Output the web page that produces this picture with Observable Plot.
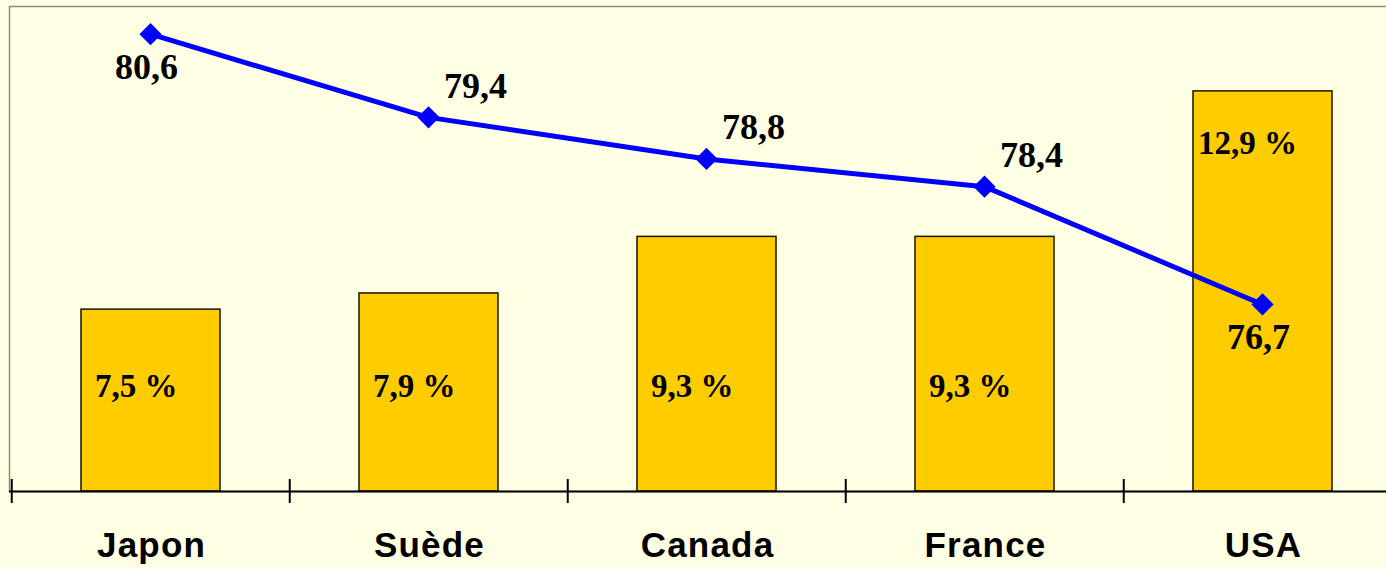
<!DOCTYPE html>
<html>
<head>
<meta charset="utf-8">
<script src="https://cdn.jsdelivr.net/npm/d3@7"></script>
<script src="https://cdn.jsdelivr.net/npm/@observablehq/plot@0.6"></script>
<style>
  html, body { margin: 0; padding: 0; background: #FFFFE3; overflow: hidden; }
  #wrap { position: relative; width: 1386px; height: 568px; overflow: hidden; }
  #wrap > svg { position: absolute; left: 0; top: 0; }
</style>
</head>
<body>
<div id="wrap"></div>
<script>
// Data
const categories = ["Japon", "Suède", "Canada", "France", "USA"];
const barValues = [7.5, 7.9, 9.3, 9.3, 12.9];      // % (bars, left scale)
const lineValues = [80.6, 79.4, 78.8, 78.4, 76.7];  // years (line, right scale)
const barDomain = [3, 15];
const lineDomain = [74, 81];

const bars = categories.map((c, i) => ({country: c, value: barValues[i]}));
const line = categories.map((c, i) => ({country: c, value: lineValues[i]}));

const W = 1386, H = 568;
const margins = {marginLeft: 9, marginRight: -17.5, marginTop: 6, marginBottom: 77};
const fmt = v => v.toFixed(1).replace(".", ",");
const serif = "'Liberation Serif', 'Times New Roman', Times, serif";
const sans = "'Liberation Sans', Arial, Helvetica, sans-serif";

const last = categories[categories.length - 1];
const first = categories[0];

const plot1 = Plot.plot({
  width: W, height: H, ...margins,
  style: {background: "#FFFFE3", fontFamily: sans, overflow: "hidden"},
  x: {type: "band", domain: categories, paddingInner: 0.5, paddingOuter: 0.25, axis: null},
  y: {domain: barDomain, axis: null},
  marks: [
    Plot.frame({stroke: "#8a8a8a", strokeWidth: 1.5}),
    Plot.barY(bars, {x: "country", y1: barDomain[0], y2: "value", fill: "#FFCC00", stroke: "#1a1400", strokeWidth: 1.5}),
    Plot.ruleY([barDomain[0]], {stroke: "#000", strokeWidth: 2}),
    Plot.ruleX(categories, {x: d => d, y1: barDomain[0], y2: barDomain[0], dx: -139.25, insetTop: -12, insetBottom: -12, stroke: "#000", strokeWidth: 2}),
    Plot.text(categories, {x: d => d, y: barDomain[0], dy: 54, dx: 0.5, text: d => d, fontSize: 35, fontWeight: "bold", fontFamily: sans, fill: "#000"}),
    Plot.text(bars.filter(d => d.country !== last), {x: "country", y: 5.6, dx: -56, textAnchor: "start", text: d => fmt(d.value) + " %", fontSize: 33, fontWeight: "bold", fontFamily: serif, fill: "#000"}),
    Plot.text(bars.filter(d => d.country === last), {x: "country", y: "value", dy: 52, dx: -65, textAnchor: "start", text: d => fmt(d.value) + " %", fontSize: 33, fontWeight: "bold", fontFamily: serif, fill: "#000"})
  ]
});
// widen the category labels slightly, like the reference
const catGroup = plot1.querySelectorAll('g[aria-label="text"]')[0];
if (catGroup) catGroup.style.letterSpacing = "1.2px";

const plot2 = Plot.plot({
  width: W, height: H, ...margins,
  style: {background: "transparent", fontFamily: serif, overflow: "hidden"},
  x: {type: "point", domain: categories, padding: 0.5, axis: null},
  y: {domain: lineDomain, axis: null},
  marks: [
    Plot.lineY(line, {x: "country", y: "value", stroke: "#0000FF", strokeWidth: 5}),
    Plot.dot(line, {x: "country", y: "value", symbol: "diamond2", r: 10, fill: "#0000FF", stroke: "none"}),
    Plot.text(line.filter(d => d.country === first || d.country === last), {x: "country", y: "value", dy: 33, dx: -4, text: d => fmt(d.value), fontSize: 36, fontWeight: "bold", fontFamily: serif, fill: "#000"}),
    Plot.text(line.filter(d => d.country !== first && d.country !== last), {x: "country", y: "value", dy: -31, dx: 47, text: d => fmt(d.value), fontSize: 36, fontWeight: "bold", fontFamily: serif, fill: "#000"})
  ]
});

const wrap = document.getElementById("wrap");
wrap.appendChild(plot1);
wrap.appendChild(plot2);
</script>
</body>
</html>
